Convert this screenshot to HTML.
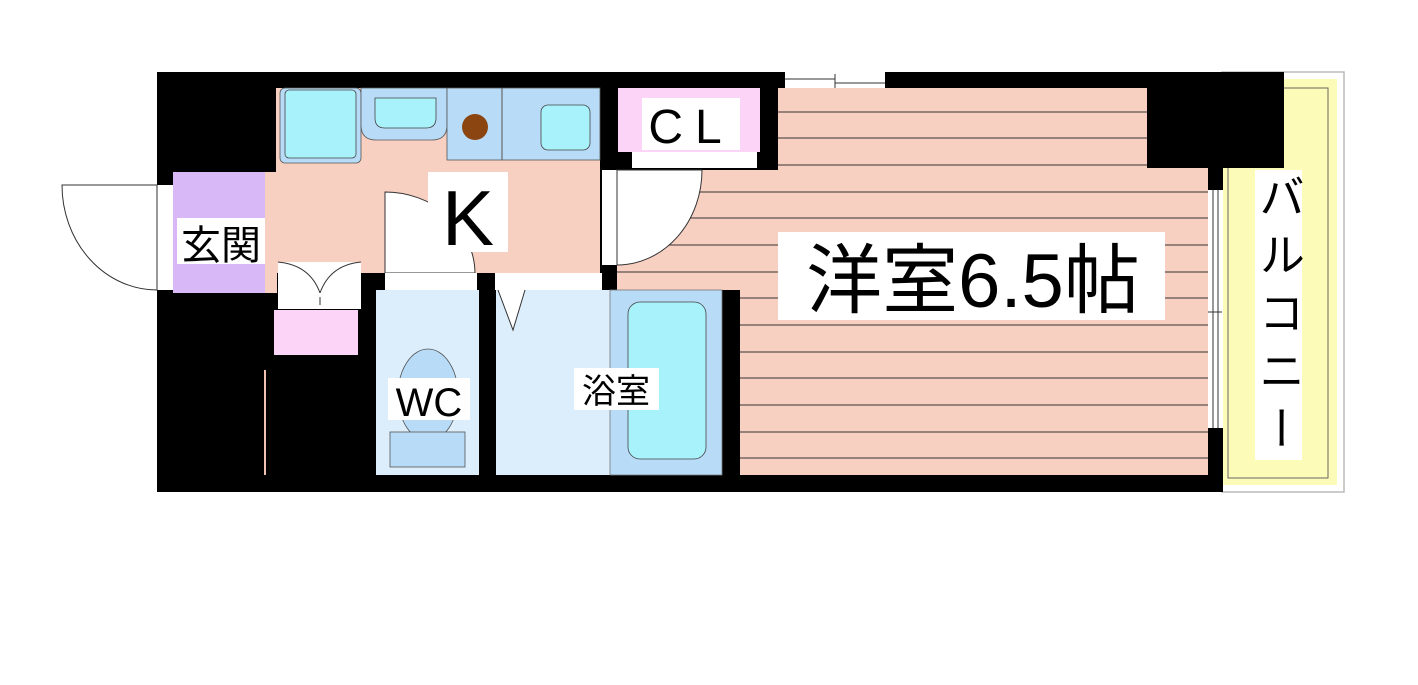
<!DOCTYPE html>
<html><head><meta charset="utf-8"><style>
html,body{margin:0;padding:0;background:#fff;width:1418px;height:685px;overflow:hidden}
svg{display:block}
text{font-family:"Liberation Sans","Noto Sans CJK JP",sans-serif;fill:#000}
</style></head><body>
<svg width="1418" height="685" viewBox="0 0 1418 685">
<defs>
<clipPath id="room"><path d="M778 88H1147V168H1208V475H740V290H617V170H778Z"/></clipPath>
</defs>
<rect x="1222" y="72" width="122" height="420" fill="#fff" stroke="#bbb" stroke-width="1.5"/>
<rect x="1223" y="79" width="114" height="406" fill="#fdfbb8"/>
<rect x="1228" y="88" width="100" height="390" fill="none" stroke="#666" stroke-width="1"/>
<rect x="157" y="72" width="1066" height="420" fill="#000"/>
<rect x="1223" y="72" width="61" height="96" fill="#000"/>
<path d="M778 88H1147V168H1208V475H740V290H617V170H778Z" fill="#f8d0c2"/>
<g clip-path="url(#room)" stroke="#333" stroke-width="1">
<line x1="600" x2="1210" y1="112" y2="112"/><line x1="600" x2="1210" y1="138" y2="138"/><line x1="600" x2="1210" y1="165" y2="165"/><line x1="600" x2="1210" y1="192" y2="192"/><line x1="600" x2="1210" y1="218" y2="218"/><line x1="600" x2="1210" y1="245" y2="245"/><line x1="600" x2="1210" y1="272" y2="272"/><line x1="600" x2="1210" y1="298" y2="298"/><line x1="600" x2="1210" y1="325" y2="325"/><line x1="600" x2="1210" y1="352" y2="352"/><line x1="600" x2="1210" y1="378" y2="378"/><line x1="600" x2="1210" y1="405" y2="405"/><line x1="600" x2="1210" y1="432" y2="432"/><line x1="600" x2="1210" y1="458" y2="458"/>
</g>
<rect x="1208" y="190" width="15" height="238" fill="#fff"/>
<line x1="1213" y1="190" x2="1213" y2="428" stroke="#333"/><line x1="1218" y1="190" x2="1218" y2="428" stroke="#333"/>
<line x1="1208" y1="312" x2="1222" y2="312" stroke="#333"/>
<rect x="785" y="72" width="100" height="16" fill="#fff"/>
<line x1="785" y1="79" x2="835" y2="79" stroke="#333"/><line x1="835" y1="83" x2="885" y2="83" stroke="#333"/><line x1="835" y1="74" x2="835" y2="88" stroke="#333"/>
<rect x="618" y="88" width="142" height="64" fill="#fcd4f8"/>
<rect x="632" y="152" width="125" height="16" fill="#fff"/>
<rect x="642" y="98" width="98" height="52" fill="#fff"/>
<text x="691" y="143" font-size="48" text-anchor="middle" letter-spacing="12">CL</text>
<rect x="602" y="170" width="15" height="95" fill="#fff"/>
<path d="M617 170H702A85 95 0 0 1 617 265Z" fill="#fff" stroke="#333" stroke-width="1"/>
<path d="M276 88H600V273H276Z" fill="#f8d0c2"/>
<rect x="265" y="172" width="12" height="121" fill="#f8d0c2"/>
<rect x="173" y="172" width="92" height="121" fill="#d8b8f6"/>
<rect x="157" y="185" width="16" height="105" fill="#fff"/>
<path d="M157 185H62A95 105 0 0 0 157 290Z" fill="#fff" stroke="#333" stroke-width="1"/>
<rect x="177" y="218" width="88" height="46" fill="#fff"/>
<text x="221" y="259" font-size="40" text-anchor="middle">玄関</text>
<rect x="280" y="88" width="81" height="75" rx="5" fill="#b8dcf8" stroke="#555" stroke-width="0.8"/>
<rect x="285" y="90" width="71" height="68" rx="4" fill="#a8f2fc" stroke="#444" stroke-width="0.8"/>
<path d="M361 88H447V125Q447 140 432 140H376Q361 140 361 125Z" fill="#b8dcf8" stroke="#555" stroke-width="0.8"/>
<path d="M375 98H436V118Q436 128 426 128H385Q375 128 375 118Z" fill="#a8f2fc" stroke="#444" stroke-width="0.8"/>
<rect x="447" y="88" width="153" height="72" fill="#b8dcf8" stroke="#555" stroke-width="0.8"/>
<line x1="502" y1="88" x2="502" y2="160" stroke="#555"/>
<circle cx="475" cy="127" r="13" fill="#8b4510"/>
<rect x="541" y="105" width="49" height="45" rx="7" fill="#a8f2fc" stroke="#444" stroke-width="0.8"/>
<path d="M385 192A90 82 0 0 1 475 273H385Z" fill="#fff" stroke="#333" stroke-width="1"/>
<rect x="428" y="172" width="80" height="80" fill="#fff"/>
<text x="468" y="245" font-size="78" text-anchor="middle">K</text>
<rect x="385" y="273" width="92" height="17" fill="#fff"/>
<rect x="495" y="273" width="107" height="17" fill="#fff"/>
<rect x="278" y="262" width="83" height="31" fill="#fff"/>
<path d="M278 262Q310 265 320 293M361 262Q330 265 320 293" fill="none" stroke="#333"/>
<rect x="278" y="293" width="83" height="16" fill="#fff"/>
<line x1="320" y1="297" x2="320" y2="305" stroke="#333"/>
<rect x="274" y="310" width="84" height="45" fill="#fcd4f8"/>
<line x1="265" y1="370" x2="265" y2="475" stroke="#f0c0b0" stroke-width="2"/>
<rect x="376" y="290" width="103" height="185" fill="#dceefc"/>
<ellipse cx="428" cy="395" rx="30" ry="46" fill="#b8dcf8" stroke="#555" stroke-width="0.8"/>
<rect x="390" y="432" width="75" height="35" fill="#b8dcf8" stroke="#555" stroke-width="0.8"/>
<rect x="388" y="378" width="82" height="42" fill="#fff"/>
<text x="429" y="416" font-size="40" text-anchor="middle">WC</text>
<rect x="496" y="290" width="226" height="185" fill="#dceefc"/>
<rect x="610" y="290" width="112" height="185" fill="#b8dcf8" stroke="#777" stroke-width="0.8"/>
<rect x="628" y="302" width="78" height="157" rx="12" fill="#a8f2fc" stroke="#444" stroke-width="0.8"/>
<path d="M498 290L513 330L525 290" fill="#fff" stroke="#333"/>
<rect x="574" y="368" width="85" height="42" fill="#fff"/>
<text x="616" y="403" font-size="34" text-anchor="middle">浴室</text>
<rect x="778" y="232" width="387" height="88" fill="#fff"/>
<text x="973" y="307" font-size="76" text-anchor="middle">洋室6.5帖</text>
<rect x="1255" y="170" width="47" height="290" fill="#fff"/>
<text font-size="46" text-anchor="middle" letter-spacing="12" style="writing-mode:vertical-rl" x="1279" y="318">バルコニー</text>
</svg>
</body></html>
